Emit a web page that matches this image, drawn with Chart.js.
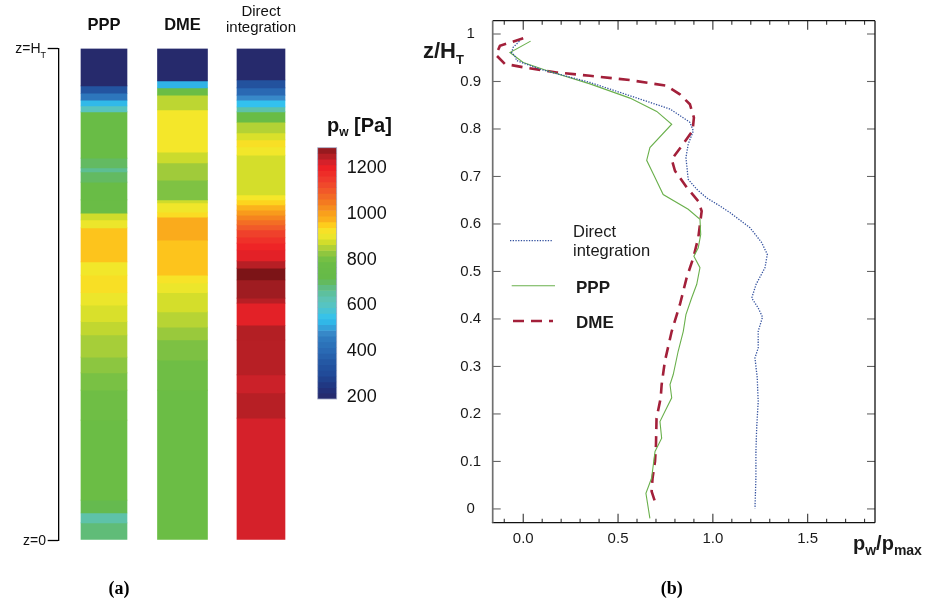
<!DOCTYPE html>
<html>
<head>
<meta charset="utf-8">
<script src="https://cdn.jsdelivr.net/npm/chart.js@4.4.1/dist/chart.umd.min.js"></script>
<style>
  html, body { margin: 0; padding: 0; background: #fff; }
  #wrap { position: relative; width: 925px; height: 605px; overflow: hidden; background: #fff; }
  canvas { position: absolute; }
</style>
</head>
<body>
<div id="wrap">
  <canvas id="cols" width="300" height="605" style="left:0;top:0"></canvas>
  <canvas id="cbar" width="110" height="320" style="left:300px;top:100px"></canvas>
  <canvas id="prof" width="525" height="605" style="left:400px;top:0"></canvas>
</div>
<script>
const FONT = "'Liberation Sans', Arial, Helvetica, sans-serif";
const SERIF = "'Liberation Serif', 'Times New Roman', serif";

// ---------- (a) wall pressure bands along the silo height ----------
const columnNames = ['PPP', 'DME', 'Direct integration'];

// upper edge of each band (z/H_T) and its pressure [Pa], bottom to top
const pppTop = [0.035, 0.055, 0.081, 0.244, 0.305, 0.340, 0.372, 0.417, 0.444, 0.478, 0.503, 0.539, 0.566, 0.635, 0.651, 0.665, 0.692, 0.728, 0.749, 0.757, 0.777, 0.871, 0.883, 0.895, 0.909, 0.924, 1.0];
const pppP   = [685, 640, 715, 785, 795, 808, 825, 845, 865, 885, 905, 930, 915, 960, 905, 875, 775, 765, 700, 665, 700, 772, 610, 530, 440, 340, 195];

const dmeTop = [0.305, 0.366, 0.407, 0.433, 0.464, 0.503, 0.523, 0.539, 0.610, 0.657, 0.667, 0.686, 0.692, 0.732, 0.767, 0.789, 0.875, 0.905, 0.920, 0.934, 1.0];
const dmeP   = [785, 795, 812, 835, 858, 880, 905, 925, 960, 985, 935, 912, 875, 815, 840, 872, 918, 862, 780, 520, 195];

const directTop = [0.248, 0.299, 0.336, 0.407, 0.437, 0.482, 0.492, 0.529, 0.553, 0.568, 0.590, 0.604, 0.616, 0.631, 0.641, 0.651, 0.661, 0.671, 0.682, 0.692, 0.702, 0.783, 0.800, 0.814, 0.828, 0.850, 0.871, 0.881, 0.895, 0.905, 0.920, 0.936, 1.0];
const directP   = [1228, 1252, 1236, 1252, 1255, 1212, 1252, 1272, 1290, 1252, 1212, 1195, 1170, 1140, 1100, 1070, 1040, 1010, 975, 945, 920, 880, 915, 930, 885, 855, 770, 640, 545, 480, 400, 330, 195];

// colour bar levels [Pa] and its labelled ticks
const cbarEdges = [190, 215, 240, 265, 290, 315, 340, 365, 390, 415, 440, 465, 490, 515, 540, 565, 590, 615, 640, 665, 690, 715, 740, 765, 790, 815, 840, 865, 890, 915, 940, 965, 990, 1015, 1040, 1065, 1090, 1115, 1140, 1165, 1190, 1215, 1240, 1265, 1290];
const cbarTicks = [200, 400, 600, 800, 1000, 1200];

// ---------- (b) normalised wall pressure profiles ----------
const directRatio = [-0.020, -0.053, -0.061, -0.044, -0.035, 0.088, 0.352, 0.563, 0.774, 0.879, 0.897, 0.870, 0.858, 0.870, 0.915, 0.967, 1.037, 1.090, 1.196, 1.257, 1.287, 1.275, 1.228, 1.205, 1.239, 1.262, 1.239, 1.239, 1.222, 1.234, 1.239, 1.231, 1.227, 1.227, 1.222];
const directZ     = [0.985, 0.972, 0.961, 0.954, 0.944, 0.926, 0.898, 0.870, 0.842, 0.814, 0.796, 0.768, 0.740, 0.694, 0.673, 0.655, 0.638, 0.624, 0.592, 0.561, 0.536, 0.508, 0.473, 0.444, 0.423, 0.404, 0.374, 0.339, 0.318, 0.276, 0.226, 0.170, 0.121, 0.065, 0.001];

const pppRatio = [0.039, -0.070, 0.000, 0.123, 0.352, 0.563, 0.704, 0.783, 0.668, 0.651, 0.686, 0.738, 0.870, 0.932, 0.936, 0.923, 0.900, 0.932, 0.915, 0.888, 0.858, 0.844, 0.817, 0.791, 0.774, 0.783, 0.747, 0.721, 0.730, 0.695, 0.686, 0.677, 0.647, 0.668];
const pppZ     = [0.985, 0.961, 0.940, 0.923, 0.895, 0.865, 0.837, 0.810, 0.761, 0.734, 0.705, 0.662, 0.631, 0.610, 0.578, 0.550, 0.532, 0.508, 0.473, 0.444, 0.409, 0.374, 0.332, 0.283, 0.262, 0.234, 0.205, 0.184, 0.149, 0.121, 0.093, 0.065, 0.033, -0.020];

const dmeRatio = [0.000, -0.123, -0.144, -0.097, 0.000, 0.176, 0.352, 0.563, 0.756, 0.826, 0.879, 0.900, 0.893, 0.835, 0.783, 0.800, 0.862, 0.923, 0.941, 0.923, 0.897, 0.862, 0.826, 0.783, 0.747, 0.730, 0.725, 0.703, 0.700, 0.695, 0.682, 0.677, 0.703];
const dmeZ     = [0.991, 0.975, 0.956, 0.937, 0.930, 0.919, 0.912, 0.903, 0.891, 0.873, 0.852, 0.824, 0.796, 0.764, 0.736, 0.712, 0.677, 0.648, 0.627, 0.571, 0.529, 0.487, 0.430, 0.374, 0.311, 0.262, 0.234, 0.191, 0.135, 0.100, 0.065, 0.037, 0.005];

const xTickVals = [-0.1, 0.0, 0.1, 0.2, 0.3, 0.4, 0.5, 0.6, 0.7, 0.8, 0.9, 1.0, 1.1, 1.2, 1.3, 1.4, 1.5, 1.6, 1.7, 1.8];
const xLabelVals = [0.0, 0.5, 1.0, 1.5];
const yTickVals = [0, 0.1, 0.2, 0.3, 0.4, 0.5, 0.6, 0.7, 0.8, 0.9, 1];

// ---------- colour map (blue - green - yellow - red) ----------
const cmapStops = [
  [190, '#26296a'], [230, '#22307a'], [265, '#1f3d88'], [300, '#214a98'], [340, '#2354a0'],
  [400, '#2a69b3'], [450, '#2e79be'], [485, '#3a8ccb'], [515, '#2fb0e4'], [545, '#33c1ee'],
  [590, '#52c4c9'], [630, '#5ec3b2'], [670, '#5dbd8e'], [700, '#63ba62'], [720, '#65ba48'],
  [790, '#6bbd45'], [815, '#7fc243'], [835, '#99c93c'], [855, '#b3d235'], [875, '#cfdc2b'],
  [900, '#e9e52b'], [920, '#f5e72a'], [950, '#fed01c'], [975, '#fbb21c'], [1010, '#f89b1c'],
  [1050, '#f47c20'], [1100, '#f15a29'], [1150, '#ef3b2c'], [1200, '#ee2125'], [1230, '#d3212a'],
  [1255, '#b31f24'], [1275, '#9c1b20'], [1290, '#7c1417']
];
function hexRgb(h) { return [1, 3, 5].map(i => parseInt(h.substr(i, 2), 16)); }
function pressureColor(p) {
  if (p <= cmapStops[0][0]) return cmapStops[0][1];
  for (let i = 1; i < cmapStops.length; i++) {
    const [v1, c1] = cmapStops[i];
    if (p <= v1) {
      const [v0, c0] = cmapStops[i - 1];
      const t = (p - v0) / (v1 - v0);
      const a = hexRgb(c0), b = hexRgb(c1);
      return 'rgb(' + a.map((x, k) => Math.round(x + (b[k] - x) * t)).join(',') + ')';
    }
  }
  return cmapStops[cmapStops.length - 1][1];
}

// text with subscripts: parts = [text, size, weight, baseline shift]
function richText(ctx, x, y, parts, align, family) {
  const fam = family || FONT;
  let w = 0;
  parts.forEach(p => { ctx.font = `${p[2]} ${p[1]}px ${fam}`; w += ctx.measureText(p[0]).width; });
  let cx = align === 'right' ? x - w : align === 'center' ? x - w / 2 : x;
  ctx.textAlign = 'left';
  ctx.textBaseline = 'alphabetic';
  parts.forEach(p => {
    ctx.font = `${p[2]} ${p[1]}px ${fam}`;
    ctx.fillText(p[0], cx, y + p[3]);
    cx += ctx.measureText(p[0]).width;
  });
}

// ---------- chart (a): banded columns ----------
const columns = [
  { top: pppTop, p: pppP, width: 46 },
  { top: dmeTop, p: dmeP, width: 50 },
  { top: directTop, p: directP, width: 48 }
];

const panelALabels = {
  id: 'panelALabels',
  afterDraw(chart) {
    const { ctx, scales: { y } } = chart;
    ctx.save();
    ctx.fillStyle = '#111';
    richText(ctx, 46, y.getPixelForValue(1) + 4, [['z=H', 14, 'normal', 0], ['T', 9, 'normal', 5]], 'right');
    richText(ctx, 46, y.getPixelForValue(0) + 5, [['z=0', 14, 'normal', 0]], 'right');
    ctx.fillStyle = '#000';
    richText(ctx, 119, 594, [['(a)', 18, 'bold', 0]], 'center', SERIF);
    ctx.restore();
  }
};

new Chart(document.getElementById('cols'), {
  type: 'bar',
  data: {
    datasets: columns.map((c, i) => ({
      label: columnNames[i],
      data: c.top.map((t, k) => ({ x: i, y: [k ? c.top[k - 1] : 0, t], p: c.p[k] })),
      backgroundColor: ctx => (ctx.raw ? pressureColor(ctx.raw.p) : '#000'),
      barThickness: c.width,
      grouped: false,
      borderWidth: 0
    }))
  },
  options: {
    responsive: false,
    animation: false,
    events: [],
    layout: { padding: { left: 0, top: 0, right: 0, bottom: 65 } },
    plugins: { legend: { display: false }, tooltip: { enabled: false } },
    scales: {
      x: {
        type: 'linear', position: 'top', min: -0.577, max: 2.497, offset: false,
        grid: { display: false, drawTicks: false, offset: false },
        border: { display: false },
        afterBuildTicks: s => { s.ticks = columnNames.map((_, i) => ({ value: i })); },
        afterFit: s => { s.height = 48.5; s.paddingLeft = 0; s.paddingRight = 0; },
        ticks: {
          autoSkip: false, maxRotation: 0, minRotation: 0, padding: 13, color: '#111',
          callback: v => { const n = columnNames[v]; return n.includes(' ') ? n.split(' ') : n; },
          font: c => (c.index === 2
            ? { family: FONT, size: 15, weight: 'normal', lineHeight: 1.07 }
            : { family: FONT, size: 16.5, weight: 'bold', lineHeight: 1.2 })
        }
      },
      y: {
        min: 0, max: 1,
        afterBuildTicks: s => { s.ticks = [{ value: 0 }, { value: 1 }]; },
        afterFit: s => { s.width = 58.7; },
        grid: { drawOnChartArea: false, drawTicks: true, tickLength: 11, tickColor: '#000', tickWidth: 1.3 },
        border: { display: true, color: '#000', width: 1.3 },
        ticks: { display: false }
      }
    }
  },
  plugins: [panelALabels]
});

// ---------- colour bar ----------
const cbarDecor = {
  id: 'cbarDecor',
  afterDraw(chart) {
    const { ctx, chartArea: a } = chart;
    ctx.save();
    ctx.strokeStyle = '#a3abc6';
    ctx.lineWidth = 0.8;
    ctx.strokeRect(a.left, a.top, a.right - a.left, a.bottom - a.top);
    ctx.fillStyle = '#111';
    richText(ctx, 27, 32, [['p', 20, 'bold', 0], ['w', 12, 'bold', 4], [' [Pa]', 20, 'bold', 0]], 'left');
    ctx.restore();
  }
};

new Chart(document.getElementById('cbar'), {
  type: 'bar',
  data: {
    datasets: [{
      label: 'p_w',
      data: cbarEdges.slice(1).map((hi, k) => ({ x: 0, y: [cbarEdges[k], hi], p: (cbarEdges[k] + hi) / 2 })),
      backgroundColor: ctx => (ctx.raw ? pressureColor(ctx.raw.p) : '#000'),
      barThickness: 19,
      grouped: false,
      borderWidth: 0
    }]
  },
  options: {
    responsive: false,
    animation: false,
    events: [],
    layout: { padding: { left: 17.7, top: 47.7, bottom: 21, right: 0 } },
    plugins: { legend: { display: false }, tooltip: { enabled: false } },
    scales: {
      x: { type: 'linear', min: -0.5, max: 0.5, offset: false, display: false },
      y: {
        position: 'right', min: 190, max: 1290,
        afterBuildTicks: s => { s.ticks = cbarTicks.map(v => ({ value: v })); },
        afterFit: s => { s.width = 110 - 36.7; },
        grid: { display: false, drawTicks: false },
        border: { display: false },
        ticks: { padding: 10, color: '#111', font: { family: FONT, size: 18 }, callback: v => String(v) }
      }
    }
  },
  plugins: [cbarDecor]
});

// ---------- chart (b): profiles ----------
const legendEntries = [
  { lines: [['Direct', 'normal'], ['integration', 'normal']], x1: 110, x2: 153, y: 240.7, tx: 173, ty: [236.7, 255.7], size: 16.5 },
  { lines: [['PPP', 'bold']], x1: 111.7, x2: 155, y: 285.7, tx: 176, ty: [293.3], size: 17 },
  { lines: [['DME', 'bold']], x1: 113, x2: 153, y: 321, tx: 176, ty: [327.7], size: 17 }
];

const profileDecor = {
  id: 'profileDecor',
  afterDraw(chart) {
    const { ctx, chartArea: a, scales: { x, y } } = chart;
    ctx.save();
    const seg = (x1, y1, x2, y2) => { ctx.beginPath(); ctx.moveTo(x1, y1); ctx.lineTo(x2, y2); ctx.stroke(); };
    // tick marks pointing into the plot on all four sides
    ctx.lineWidth = 1.1;
    ctx.strokeStyle = '#333';
    xTickVals.forEach(v => {
      const px = x.getPixelForValue(v);
      const len = xLabelVals.includes(v) ? 9 : 4;
      seg(px, a.bottom, px, a.bottom - len);
      seg(px, a.top, px, a.top + len);
    });
    ctx.strokeStyle = '#666';
    yTickVals.forEach(v => {
      const py = y.getPixelForValue(v);
      seg(a.left, py, a.left + 8, py);
      seg(a.right, py, a.right - 8, py);
    });
    // frame
    ctx.strokeStyle = '#111';
    ctx.lineWidth = 1.3;
    seg(a.left, a.top, a.right, a.top);
    seg(a.right, a.top, a.right, a.bottom);
    seg(a.left - 0.8, a.bottom, a.right, a.bottom);
    ctx.strokeStyle = '#707070';
    ctx.lineWidth = 1.7;
    seg(a.left, a.top, a.left, a.bottom);

    // legend drawn from the dataset line styles
    chart.data.datasets.forEach((ds, i) => {
      const e = legendEntries[i];
      ctx.save();
      ctx.strokeStyle = ds.borderColor;
      ctx.lineWidth = ds.borderWidth;
      ctx.setLineDash(ds.borderDash || []);
      seg(e.x1, e.y, e.x2, e.y);
      ctx.restore();
      ctx.fillStyle = '#1a1a1a';
      e.lines.forEach((ln, k) => richText(ctx, e.tx, e.ty[k], [[ln[0], e.size, ln[1], 0]], 'left'));
    });

    // axis titles
    ctx.fillStyle = '#1a1a1a';
    richText(ctx, 23, 57.5, [['z/H', 22, 'bold', 0], ['T', 13, 'bold', 6]], 'left');
    richText(ctx, 453, 550, [['p', 20, 'bold', 0], ['w', 14, 'bold', 5], ['/p', 20, 'bold', 0], ['max', 14, 'bold', 5]], 'left');
    ctx.fillStyle = '#000';
    richText(ctx, 271.7, 594, [['(b)', 18, 'bold', 0]], 'center', SERIF);
    ctx.restore();
  }
};

const pts = (xs, zs) => xs.map((v, i) => ({ x: v, y: zs[i] }));

new Chart(document.getElementById('prof'), {
  type: 'line',
  data: {
    datasets: [
      { label: 'Direct integration', data: pts(directRatio, directZ), borderColor: '#34529f', borderWidth: 1.3, borderDash: [1.3, 1.4], pointRadius: 0, fill: false, tension: 0 },
      { label: 'PPP', data: pts(pppRatio, pppZ), borderColor: '#6ab04c', borderWidth: 1.1, pointRadius: 0, fill: false, tension: 0 },
      { label: 'DME', data: pts(dmeRatio, dmeZ), borderColor: '#a3203a', borderWidth: 2.6, borderDash: [11, 7], pointRadius: 0, fill: false, tension: 0 }
    ]
  },
  options: {
    responsive: false,
    animation: false,
    events: [],
    layout: { padding: { left: 0, top: 20.7, right: 50, bottom: 0 } },
    plugins: { legend: { display: false }, tooltip: { enabled: false } },
    scales: {
      x: {
        type: 'linear', position: 'bottom', min: -0.161, max: 1.855,
        grid: { display: false, drawTicks: false },
        border: { display: false },
        afterBuildTicks: s => { s.ticks = xTickVals.map(v => ({ value: v })); },
        afterFit: s => { s.height = 82.3; },
        ticks: {
          autoSkip: false, maxRotation: 0, minRotation: 0, padding: 7, color: '#1a1a1a',
          font: { family: FONT, size: 15 },
          callback: v => (xLabelVals.includes(v) ? v.toFixed(1) : '')
        }
      },
      y: {
        min: -0.029, max: 1.028,
        grid: { display: false, drawTicks: false },
        border: { display: false },
        afterBuildTicks: s => { s.ticks = yTickVals.map(v => ({ value: v })); },
        afterFit: s => { s.width = 92.7; },
        ticks: {
          autoSkip: false, crossAlign: 'center', padding: 11.5, color: '#1a1a1a',
          font: { family: FONT, size: 15 },
          callback: v => (v === 0 ? '0' : v === 1 ? '1' : v.toFixed(1))
        }
      }
    }
  },
  plugins: [profileDecor]
});
</script>
</body>
</html>
